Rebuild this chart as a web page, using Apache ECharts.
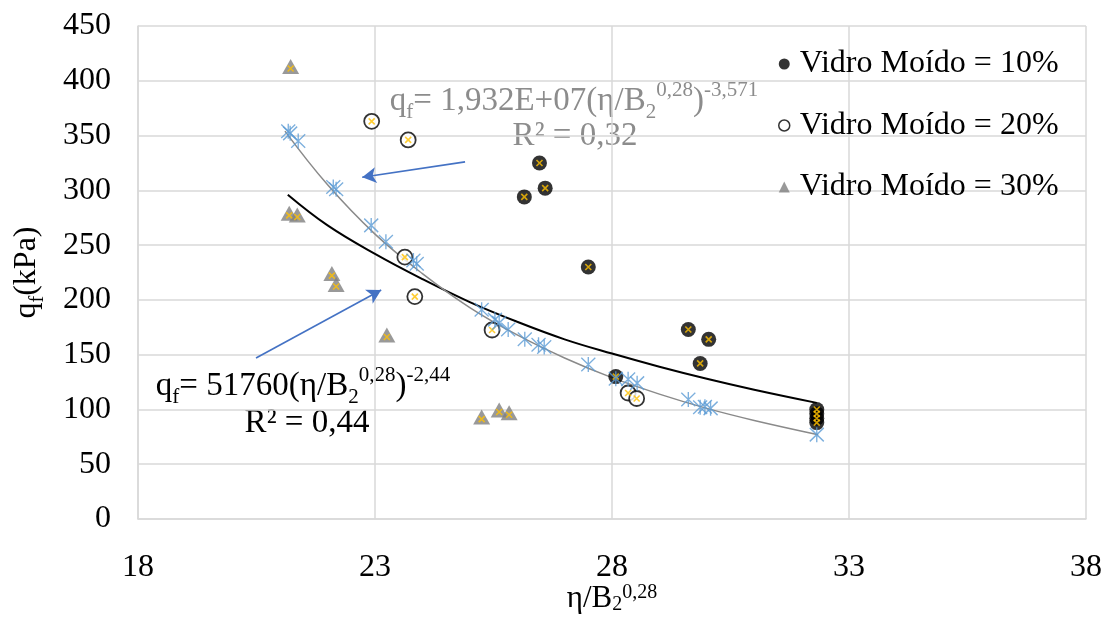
<!DOCTYPE html>
<html><head><meta charset="utf-8">
<script src="https://cdn.jsdelivr.net/npm/echarts@6.0.0/dist/echarts.min.js"></script>
<style>html,body{margin:0;padding:0;background:#fff}#c{width:1105px;height:617px}</style>
</head><body><div id="c"></div>
<script>
// ---- data ----
const xTicks = [18, 23, 28, 33, 38];
const yTicks = [0, 50, 100, 150, 200, 250, 300, 350, 400, 450];

const seriesNames = ['Vidro Moído = 10%', 'Vidro Moído = 20%', 'Vidro Moído = 30%'];

const vm10X = [26.15, 26.47, 26.59, 27.50, 28.08, 29.61, 29.86, 30.04, 32.32, 32.32, 32.32, 32.32];
const vm10Y = [294, 325, 302, 230, 130, 173, 142, 164, 100, 96, 92, 88];

const vm20X = [22.93, 23.70, 23.63, 23.84, 25.47, 28.34, 28.52];
const vm20Y = [363, 346, 239, 203, 172.5, 115, 110];

const vm30X = [21.22, 21.19, 21.36, 22.09, 22.18, 23.25, 25.25, 25.62, 25.83];
const vm30Y = [413, 279, 277.5, 224, 214, 168, 93, 99.5, 97];

const fitPtsX = [21.17, 21.21, 21.38, 22.12, 22.18, 22.92, 23.23, 23.81, 23.88, 25.25, 25.53, 25.62, 25.81, 26.16, 26.45, 26.57, 27.50, 28.08, 28.34, 28.53, 29.61, 29.86, 29.96, 30.08, 32.32];
const fitPtsY = [354, 352, 345, 303, 301, 268, 253, 236, 233, 191, 182, 179, 173, 164, 159, 157, 141, 128, 127.5, 124, 109, 102, 102.5, 101, 77];

const trendBlackX = [21.16, 22, 23, 24, 25, 26, 27, 28, 29, 30, 31, 32.32];
const trendBlackY = [296, 268, 242, 219, 198, 180, 164, 151, 139, 128, 118, 106];

const trendGrayX = [21.1, 22, 23, 24, 25, 26, 27, 28, 29, 30, 31, 32.35];
const trendGrayY = [354, 305, 260, 224, 193, 168, 147, 129, 114, 101, 90, 77];

const arrowFrom = [[24.9, 326], [20.49, 147]];
const arrowTo = [[22.73, 312], [23.13, 209]];

const eqGray = ['1,932E+07', '0,28', '-3,571', 'R² = 0,32'];
const eqBlack = ['51760', '0,28', '-2,44', 'R² = 0,44'];

// ---- build ----
const FONT = 'Liberation Serif';
const zip = (xs, ys) => xs.map((x, i) => [x, ys[i]]);
const XPATH = 'path://M0,0L10,10M0,10L10,0';
const STAR = 'path://M5,0L5,10M0,0.5L10,9.5M0,9.5L10,0.5';

function rich(color, size, lh) {
  const s = Math.round(size * 0.64);
  return {
    a: { fontFamily: FONT, fontSize: size, lineHeight: lh || size + 10, fill: color, color: color },
    sub: { fontFamily: FONT, fontSize: s, lineHeight: s, verticalAlign: 'bottom', fill: color, color: color },
    sup: { fontFamily: FONT, fontSize: s, lineHeight: s, verticalAlign: 'top', fill: color, color: color }
  };
}

function scatter(name, xs, ys, symbol, size, style, z) {
  return { name, type: 'scatter', data: zip(xs, ys), symbol, symbolSize: size, itemStyle: style, z, silent: true, emphasis: { disabled: true } };
}
function overlay(xs, ys, z, off) {
  return { type: 'scatter', data: zip(xs, ys), symbol: XPATH, symbolSize: 6, symbolOffset: off || [0, 0],
    itemStyle: { color: 'rgba(0,0,0,0)', borderColor: '#ffc000', borderWidth: 1.6 }, z, silent: true, emphasis: { disabled: true } };
}

const chart = echarts.init(document.getElementById('c'));
const gray = '#8c8c8c';
const txt = (x, y, text, color) => ({ type: 'text', x, y, silent: true,
  style: { text, rich: rich(color, 33), fill: color, align: 'center', verticalAlign: 'middle', textAlign: 'center', textVerticalAlign: 'middle' } });

chart.setOption({
  animation: false,
  backgroundColor: '#fff',
  grid: { left: 138, right: 19, top: 26, bottom: 98, containLabel: false, outerBoundsMode: 'none' },
  xAxis: {
    type: 'value', min: xTicks[0], max: xTicks[xTicks.length - 1], interval: xTicks[1] - xTicks[0],
    axisLine: { show: true, lineStyle: { color: '#d9d9d9', width: 1.5 } },
    axisTick: { show: false },
    splitLine: { show: true, lineStyle: { color: '#d9d9d9', width: 1.5 } },
    axisLabel: { fontFamily: FONT, fontSize: 32, color: '#000', margin: 33 },
    name: '{a|η/B}{sub|2}{sup|0,28}', nameLocation: 'middle', nameGap: 64, nameMoveOverlap: false,
    nameTextStyle: { fontFamily: FONT, fontSize: 31, color: '#000', rich: rich('#000', 31, 32) }
  },
  yAxis: {
    type: 'value', min: yTicks[0], max: yTicks[yTicks.length - 1], interval: yTicks[1] - yTicks[0],
    axisLine: { show: true, lineStyle: { color: '#d9d9d9', width: 1.5 } },
    axisTick: { show: false },
    splitLine: { show: true, lineStyle: { color: '#d9d9d9', width: 1.5 } },
    axisLabel: { fontFamily: FONT, fontSize: 32, color: '#000', margin: 27 },
    name: '{a|q}{sub|f}{a|(kPa)}', nameLocation: 'middle', nameGap: 90, nameRotate: 90, nameMoveOverlap: false,
    nameTextStyle: { fontFamily: FONT, fontSize: 32, color: '#000', rich: rich('#000', 32) }
  },
  legend: {
    orient: 'vertical', left: 773, top: 43, itemWidth: 11, itemHeight: 11, itemGap: 29.5,
    selectedMode: false,
    textStyle: { fontFamily: FONT, fontSize: 32, lineHeight: 32, color: '#000', padding: [0, 0, 0, 5] },
    data: [
      { name: seriesNames[0], icon: 'circle', itemStyle: { color: '#000', borderWidth: 0 } },
      { name: seriesNames[1], icon: 'circle', itemStyle: { color: '#fff', borderColor: '#000', borderWidth: 1.5 } },
      { name: seriesNames[2], icon: 'triangle', itemStyle: { color: '#808080', borderWidth: 0 } }
    ]
  },
  graphic: [
    txt(574, 101, '{a|q}{sub|f}{a|= ' + eqGray[0] + '(η/B}{sub|2}{sup|' + eqGray[1] + '}{a|)}{sup|' + eqGray[2] + '}', gray),
    txt(575, 136, '{a|' + eqGray[3] + '}', gray),
    txt(303, 386, '{a|q}{sub|f}{a|= ' + eqBlack[0] + '(η/B}{sub|2}{sup|' + eqBlack[1] + '}{a|)}{sup|' + eqBlack[2] + '}', '#000'),
    txt(307, 423, '{a|' + eqBlack[3] + '}', '#000')
  ],
  series: [
    { type: 'line', data: zip(trendBlackX, trendBlackY), smooth: 0.4, showSymbol: false, symbol: 'none',
      lineStyle: { color: '#000', width: 2 }, z: 3, silent: true, emphasis: { disabled: true } },
    { type: 'line', data: zip(trendGrayX, trendGrayY), smooth: 0.4, showSymbol: false, symbol: 'none',
      lineStyle: { color: '#8a8a8a', width: 1.5 }, z: 3, silent: true, emphasis: { disabled: true } },
    scatter(seriesNames[2], vm30X, vm30Y, 'triangle', [17, 15], { color: '#808080' }, 4),
    overlay(vm30X, vm30Y, 5, [0, 2]),
    scatter(seriesNames[0], vm10X, vm10Y, 'circle', 15, { color: '#000' }, 4),
    overlay(vm10X, vm10Y, 5),
    scatter(seriesNames[1], vm20X, vm20Y, 'circle', 15, { color: '#fff', borderColor: '#000', borderWidth: 1.8 }, 4),
    overlay(vm20X, vm20Y, 5),
    { type: 'scatter', data: zip(fitPtsX, fitPtsY), symbol: STAR, symbolSize: [14, 15],
      itemStyle: { color: 'rgba(0,0,0,0)', borderColor: '#5b9bd5', borderWidth: 1.4 }, z: 6, silent: true, emphasis: { disabled: true } },
    { type: 'line', data: [], silent: true, z: 7,
      markLine: { silent: true, symbol: ['none', 'arrow'], symbolSize: [12, 14], animation: false,
        label: { show: false }, lineStyle: { color: '#4472c4', width: 1.6, type: 'solid' },
        emphasis: { disabled: true },
        data: arrowFrom.map((p, i) => [{ coord: p }, { coord: arrowTo[i] }]) } }
  ]
});
</script></body></html>
